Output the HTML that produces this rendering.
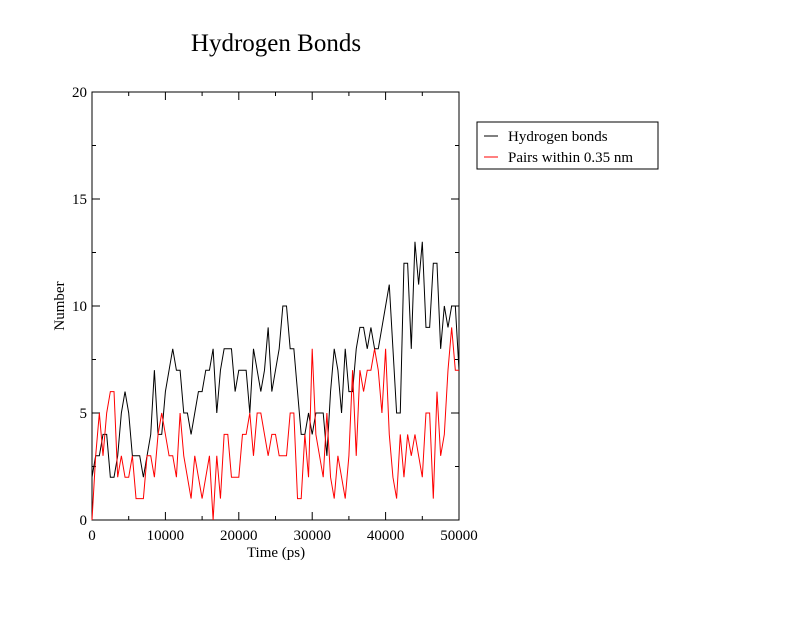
<!DOCTYPE html>
<html><head><meta charset="utf-8"><style>
body{margin:0;background:#fff}
svg text{font-family:"Liberation Serif",serif;fill:#000}
</style></head><body>
<svg id="c" width="792" height="612" xmlns="http://www.w3.org/2000/svg">
<rect width="792" height="612" fill="#fff"/>
<text x="276" y="51" font-size="25" text-anchor="middle">Hydrogen Bonds</text>
<text x="276" y="557" font-size="15" text-anchor="middle">Time (ps)</text>
<text transform="translate(64,306) rotate(-90)" font-size="15" text-anchor="middle">Number</text>
<g id="axes"></g>
<g id="series"></g>
<g>
<rect x="477" y="122" width="181" height="47" fill="#fff" stroke="#000" stroke-width="1"/>
<line x1="484" y1="136" x2="498" y2="136" stroke="#000"/>
<text x="508" y="141" font-size="15">Hydrogen bonds</text>
<line x1="484" y1="157" x2="498" y2="157" stroke="#f00"/>
<text x="508" y="162" font-size="15">Pairs within 0.35 nm</text>
</g>
</svg>
<script>
const xTicks=[0,10000,20000,30000,40000,50000];
const yTicks=[0,5,10,15,20];
const times=[];for(let i=0;i<=100;i++)times.push(i*500);
const hbonds=[2,3,3,4,4,2,2,3,5,6,5,3,3,3,2,3,4,7,4,4,6,7,8,7,7,5,5,4,5,6,6,7,7,8,5,7,8,8,8,6,7,7,7,5,8,7,6,7,9,6,7,8,10,10,8,8,6,4,4,5,4,5,5,5,3,6,8,7,5,8,6,6,8,9,9,8,9,8,8,9,10,11,8,5,5,12,12,8,13,11,13,9,9,12,12,8,10,9,10,10,7];
const pairs=[0,3,5,3,5,6,6,2,3,2,2,3,1,1,1,3,3,2,4,5,4,3,3,2,5,3,2,1,3,2,1,2,3,0,3,1,4,4,2,2,2,4,4,5,3,5,5,4,3,4,4,3,3,3,5,5,1,1,4,2,8,4,3,2,5,2,1,3,2,1,3,7,3,7,6,7,7,8,7,5,8,4,2,1,4,2,4,3,4,3,2,5,5,1,6,3,4,7,9,7,7];
const X0=92,X1=459,Y0=520,Y1=92;
const sx=v=>X0+(v-0)/50000*(X1-X0);
const sy=v=>Y0-(v-0)/20*(Y0-Y1);
const NS="http://www.w3.org/2000/svg";
const ax=document.getElementById('axes');
function mk(t,a,p){const e=document.createElementNS(NS,t);for(const k in a)e.setAttribute(k,a[k]);p.appendChild(e);return e;}
const fr=mk('rect',{x:X0,y:Y1,width:X1-X0,height:Y0-Y1,fill:'none',stroke:'#000','stroke-width':1},ax);


for(let v=0;v<=50000;v+=5000){const x=sx(v),L=v%10000===0?8:4;
 mk('line',{x1:x,y1:Y0,x2:x,y2:Y0-L,stroke:'#000'},ax);mk('line',{x1:x,y1:Y1,x2:x,y2:Y1+L,stroke:'#000'},ax);}
for(let v=0;v<=20;v+=2.5){const y=sy(v),L=v%5===0?8:4;
 mk('line',{x1:X0,y1:y,x2:X0+L,y2:y,stroke:'#000'},ax);mk('line',{x1:X1,y1:y,x2:X1-L,y2:y,stroke:'#000'},ax);}
xTicks.forEach(v=>{const t=mk('text',{x:sx(v),y:Y0+20,'font-size':15,'text-anchor':'middle'},ax);t.textContent=v;
 
 });
yTicks.forEach(v=>{const t=mk('text',{x:X0-5,y:sy(v)+5,'font-size':15,'text-anchor':'end'},ax);t.textContent=v;
 
 });
const sg=document.getElementById('series');
function line(vals,col,name){const d=vals.map((v,i)=>(i?'L':'M')+sx(times[i]).toFixed(2)+','+sy(v).toFixed(2)).join('');
 const p=mk('path',{d:d,fill:'none',stroke:col,'stroke-width':1},sg);
 
 }
line(hbonds,'#000','hydrogen-bonds-line');
line(pairs,'#f00','pairs-line');
</script>
</body></html>
